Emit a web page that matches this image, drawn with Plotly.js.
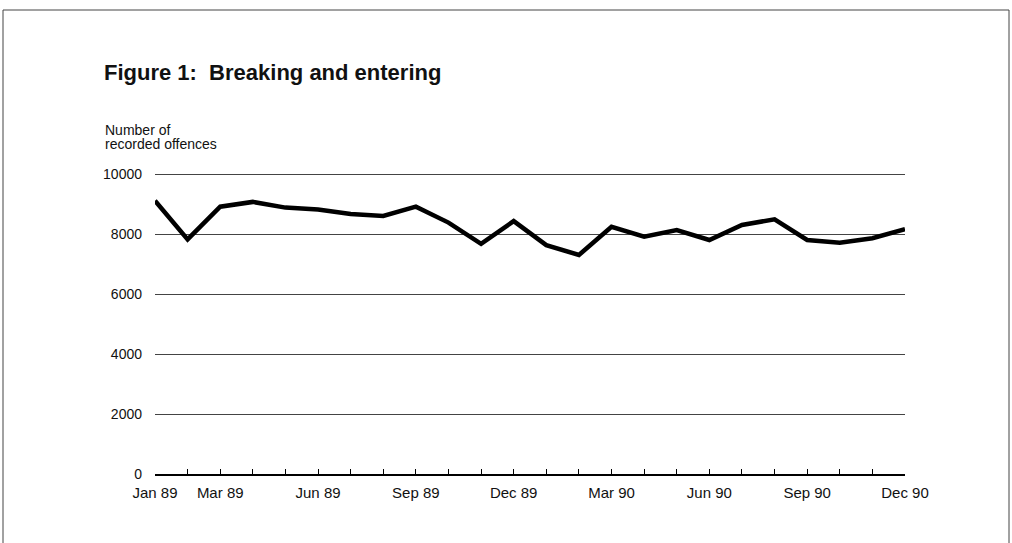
<!DOCTYPE html>
<html>
<head>
<meta charset="utf-8">
<script src="https://cdn.plot.ly/plotly-3.0.1.min.js"></script>
<style>
  html, body { margin: 0; padding: 0; background: #fff; }
  #chart { width: 1012px; height: 543px; }
</style>
</head>
<body>
<div id="chart"></div>
<script>
// monthly counts, Jan 89 .. Dec 90
var months = ['Jan 89', 'Feb 89', 'Mar 89', 'Apr 89', 'May 89', 'Jun 89',
  'Jul 89', 'Aug 89', 'Sep 89', 'Oct 89', 'Nov 89', 'Dec 89',
  'Jan 90', 'Feb 90', 'Mar 90', 'Apr 90', 'May 90', 'Jun 90',
  'Jul 90', 'Aug 90', 'Sep 90', 'Oct 90', 'Nov 90', 'Dec 90'];
var offences = [9110, 7820, 8910, 9070, 8880, 8820, 8670, 8600, 8910, 8380, 7670, 8430,
  7630, 7300, 8240, 7910, 8130, 7800, 8300, 8490, 7800, 7710, 7860, 8160];
var labelled = ['Jan 89', 'Mar 89', 'Jun 89', 'Sep 89', 'Dec 89', 'Mar 90', 'Jun 90', 'Sep 90', 'Dec 90'];
var yTicks = [0, 2000, 4000, 6000, 8000, 10000];
var yTitle = ['Number of', 'recorded offences'];

var font = 'Liberation Sans, Arial, sans-serif';

// plot box in pixels: x 155..905, y 474 (0) .. 171 (10100)
var L = 155, W = 750, B = 474, H = 303;
function px(x) { return (x - L) / W; }
function py(y) { return (B - y) / H; }

var idx = months.map(function (m, i) { return i; });
var tickText = months.map(function (m) { return labelled.indexOf(m) > -1 ? m : ''; });

var trace = {
  x: idx,
  y: offences,
  type: 'scatter',
  mode: 'lines',
  line: { color: '#000', width: 4.5 },
  cliponaxis: false,
  hoverinfo: 'skip'
};

var annos = yTitle.map(function (t, i) {
  return {
    text: t,
    xref: 'paper', yref: 'paper',
    x: px(103), y: py(130 + i * 14),
    xanchor: 'left', yanchor: 'middle', align: 'left',
    showarrow: false,
    font: { family: font, size: 14, color: '#111' }
  };
});

var layout = {
  width: 1012,
  height: 543,
  margin: { l: L, r: 1012 - L - W, t: B - H, b: 543 - B },
  paper_bgcolor: '#fff',
  plot_bgcolor: '#fff',
  showlegend: false,
  font: { family: font, size: 14, color: '#111' },
  title: {
    text: '<b>Figure 1:  Breaking and entering</b>',
    font: { family: font, size: 22, color: '#111' },
    xref: 'container', x: 104 / 1012, xanchor: 'left',
    yref: 'container', y: 1 - 72 / 543, yanchor: 'middle'
  },
  xaxis: {
    range: [0, 23],
    tickvals: idx,
    ticktext: tickText,
    ticks: 'inside',
    ticklen: 5,
    tickcolor: '#000',
    tickwidth: 1,
    ticklabelstandoff: 4,
    showgrid: false,
    zeroline: false,
    showline: true,
    linecolor: '#000',
    linewidth: 1.5,
    tickfont: { family: font, size: 15, color: '#111' },
    fixedrange: true
  },
  yaxis: {
    range: [0, 10100],
    tickvals: yTicks,
    ticktext: yTicks.map(String),
    ticks: '',
    ticklabelstandoff: 12,
    showgrid: true,
    gridcolor: '#444',
    gridwidth: 1,
    zeroline: false,
    showline: false,
    tickfont: { family: font, size: 14, color: '#111' },
    fixedrange: true
  },
  annotations: annos,
  shapes: [{
    type: 'path',
    xref: 'paper', yref: 'paper',
    path: 'M ' + px(3) + ' ' + py(560) +
      ' L ' + px(3) + ' ' + py(10) +
      ' L ' + px(1009) + ' ' + py(10) +
      ' L ' + px(1009) + ' ' + py(560),
    line: { color: '#444', width: 1 }
  }]
};

Plotly.newPlot('chart', [trace], layout, { displayModeBar: false, staticPlot: true });
</script>
</body>
</html>
